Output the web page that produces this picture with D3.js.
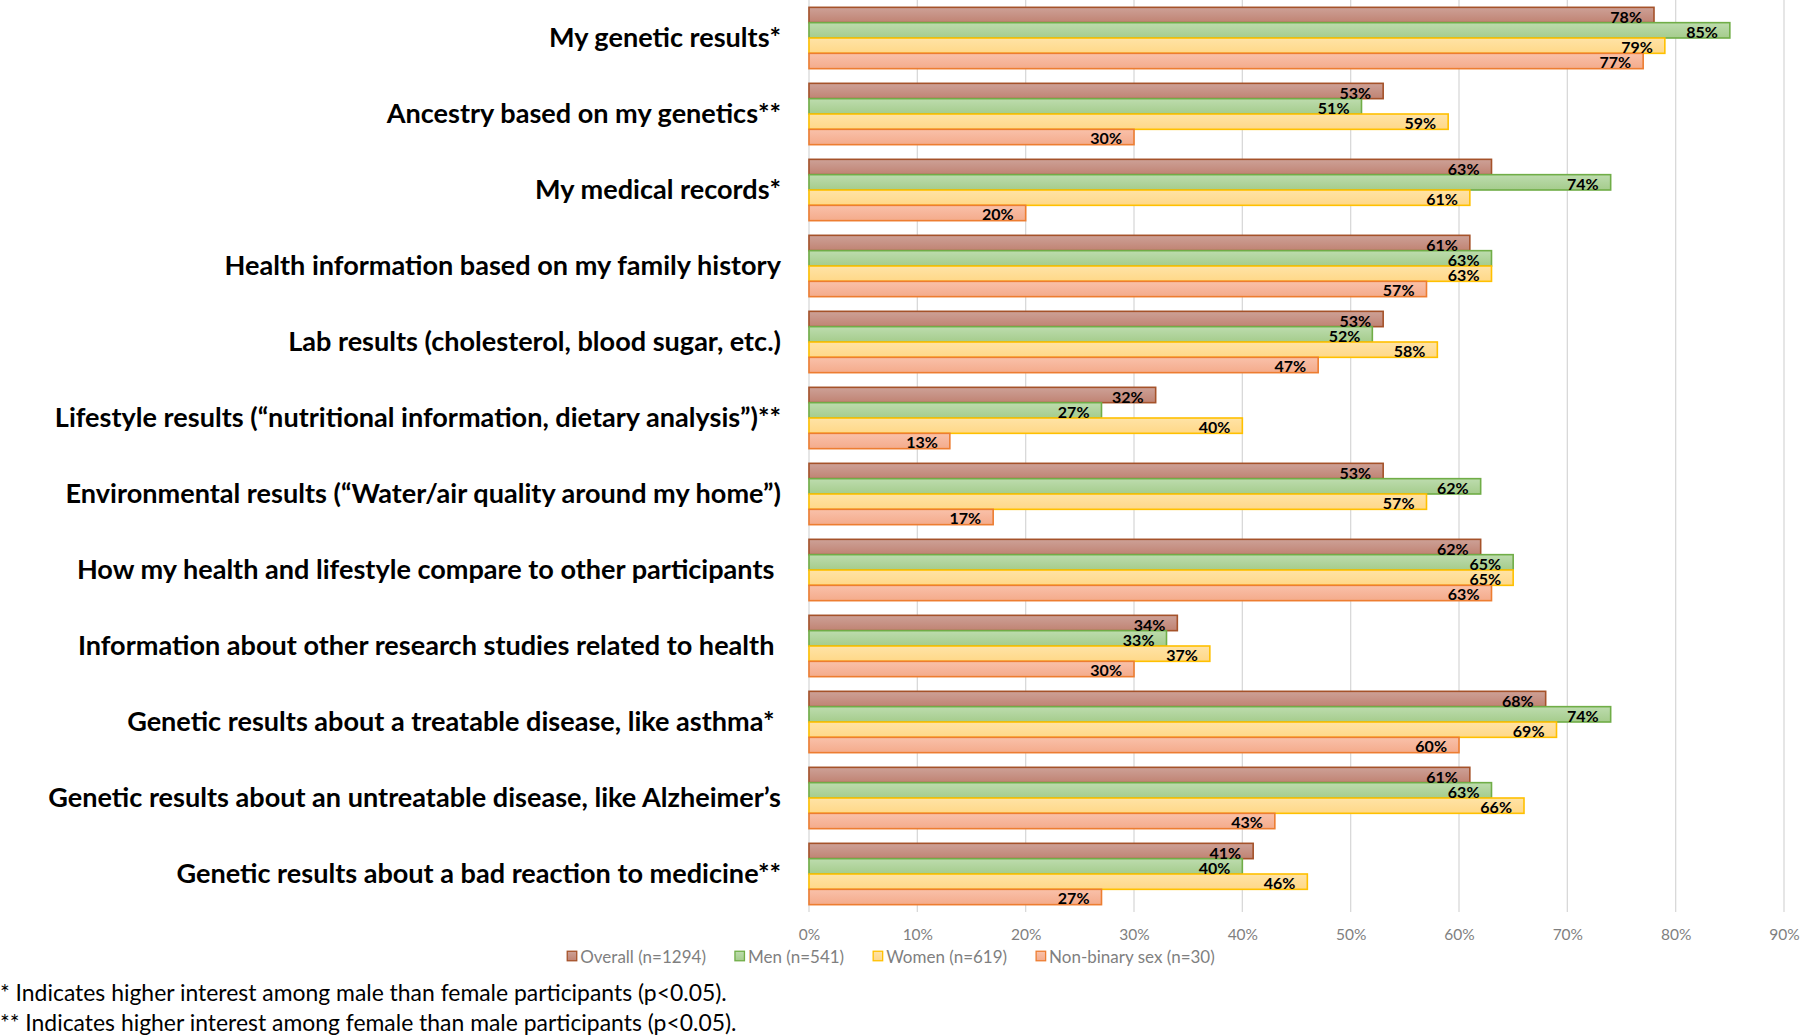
<!DOCTYPE html>
<html><head><meta charset="utf-8">
<script src="https://cdn.jsdelivr.net/npm/d3@7"></script>
<style>
html,body{margin:0;padding:0;background:#fff;}
svg{display:block;font-family:Lato,"Noto Sans",sans-serif;}
</style></head>
<body>
<svg id="chart" width="1800" height="1036"></svg>
<script>
const categories = [
  "My genetic results*",
  "Ancestry based on my genetics**",
  "My medical records*",
  "Health information based on my family history",
  "Lab results (cholesterol, blood sugar, etc.)",
  "Lifestyle results (\u201cnutritional information, dietary analysis\u201d)**",
  "Environmental results (\u201cWater/air quality around my home\u201d)",
  "How my health and lifestyle compare to other participants ",
  "Information about other research studies related to health ",
  "Genetic results about a treatable disease, like asthma* ",
  "Genetic results about an untreatable disease, like Alzheimer\u2019s",
  "Genetic results about a bad reaction to medicine**"
];
const seriesNames = ["Overall (n=1294)", "Men (n=541)", "Women (n=619)", "Non-binary sex (n=30)"];
const overall   = [78, 53, 63, 61, 53, 32, 53, 62, 34, 68, 61, 41];
const men       = [85, 51, 74, 63, 52, 27, 62, 65, 33, 74, 63, 40];
const women     = [79, 59, 61, 63, 58, 40, 57, 65, 37, 69, 66, 46];
const nonbinary = [77, 30, 20, 57, 47, 13, 17, 63, 30, 60, 43, 27];
const xTicks = [0, 10, 20, 30, 40, 50, 60, 70, 80, 90];
const footnotes = [
  "* Indicates higher interest among male than female participants (p<0.05).",
  "** Indicates higher interest among female than male participants (p<0.05)."
];

(function(){
const seriesValues = [overall, men, women, nonbinary];
const seriesStyle = [
  {top:"#cda197", bot:"#c08373", stroke:"#a5522a"},
  {top:"#bddcae", bot:"#a5cc8c", stroke:"#70ad47"},
  {top:"#ffe3a6", bot:"#ffd888", stroke:"#ffc000"},
  {top:"#f9c1aa", bot:"#f4ab8b", stroke:"#ed7d31"}
];

const svg = d3.select("#chart");
const defs = svg.append("defs");
seriesStyle.forEach((s,i)=>{
  const g = defs.append("linearGradient").attr("id","grad"+i)
    .attr("x1",0).attr("y1",0).attr("x2",0).attr("y2",1);
  g.append("stop").attr("offset","0%").attr("stop-color",s.top);
  g.append("stop").attr("offset","100%").attr("stop-color",s.bot);
});

const pLeft = 809, pRight = 1784, pTop = 0, pBottom = 912;
const x = d3.scaleLinear().domain([0, 90]).range([pLeft, pRight]);
const y = d3.scaleBand().domain(categories).range([pTop, pBottom]).paddingInner(0.193).paddingOuter(0.0965);
const ySub = d3.scaleBand().domain(d3.range(seriesNames.length)).range([0, y.bandwidth()]).padding(0);

// gridlines
const grid = svg.append("g");
grid.selectAll("line").data(xTicks).join("line")
  .attr("x1", d=>x(d)).attr("x2", d=>x(d))
  .attr("y1", pTop).attr("y2", pBottom)
  .attr("stroke", "#d9d9d9").attr("stroke-width", 1.3);

// x axis labels via d3 axis
const xAxis = d3.axisBottom(x).tickValues(xTicks).tickFormat(d=>d+"%").tickSize(0).tickPadding(0);
const xa = svg.append("g").attr("transform", `translate(0,${pBottom+17})`).call(xAxis);
xa.select(".domain").remove();
xa.selectAll("text").attr("fill","#7f7f7f").style("font-size","15.5px").style("font-family","Lato");

// bars
const groups = svg.append("g").selectAll("g").data(categories).join("g")
  .attr("transform", d=>`translate(0,${y(d)})`);
groups.each(function(cat, ci){
  const g = d3.select(this);
  const rows = seriesValues.map((arr,si)=>({si, v: arr[ci]}));
  g.selectAll("rect").data(rows).join("rect")
    .attr("x", x(0)).attr("y", d=>ySub(d.si))
    .attr("width", d=>x(d.v)-x(0)).attr("height", ySub.bandwidth())
    .attr("fill", d=>`url(#grad${d.si})`)
    .attr("stroke", d=>seriesStyle[d.si].stroke).attr("stroke-width", 1.6);
  g.selectAll("text").data(rows).join("text")
    .attr("x", d=>x(d.v)-12).attr("y", d=>ySub(d.si)+ySub.bandwidth()/2+1)
    .attr("text-anchor","end").attr("dominant-baseline","central")
    .style("font-size","16px").style("font-weight","700").attr("fill","#000")
    .text(d=>d.v+"%");
});

// category labels
const catG = svg.append("g");
const catTexts = catG.selectAll("text").data(categories).join("text")
  .attr("x", 781).attr("y", d=>y(d)+y.bandwidth()/2-2)
  .attr("text-anchor","end").attr("dominant-baseline","central")
  .style("white-space","pre")
  .style("font-size","24px").style("font-weight","700").attr("fill","#000")
  .text(d=>d);
let maxW = 0; catTexts.each(function(){ maxW = Math.max(maxW, this.getComputedTextLength()); });
const catSize = 24 * 733 / maxW;
catTexts.style("font-size", catSize + "px");

// legend
const leg = svg.append("g").attr("transform", "translate(0,956)");
const items = leg.selectAll("g").data(seriesNames).join("g");
items.append("rect").attr("width",9.5).attr("height",9.5).attr("y",-4.75)
  .attr("fill",(d,i)=>`url(#grad${i})`).attr("stroke",(d,i)=>seriesStyle[i].stroke).attr("stroke-width",1.3);
items.append("text").attr("x",13).attr("dominant-baseline","central")
  .style("font-size","17px").attr("fill","#7f7f7f").text(d=>d);
let widths = []; items.each(function(){ widths.push(this.getBBox().width); });
const gap = 29;
const total = d3.sum(widths) + gap*(widths.length-1);
let cx = 891 - total/2;
items.attr("transform",(d,i)=>{ const t = `translate(${cx},0)`; cx += widths[i]+gap; return t; });

// footnotes
const fn = svg.append("g");
const fnTexts = fn.selectAll("text").data(footnotes).join("text")
  .attr("x", 0).attr("y", (d,i)=>992 + i*30).attr("dominant-baseline","central")
  .style("font-size","20px").attr("fill","#000").text(d=>d);
const fnW = fnTexts.nodes()[0].getComputedTextLength();
fnTexts.style("font-size", (20*727/fnW) + "px");
})();
</script>
</body></html>
